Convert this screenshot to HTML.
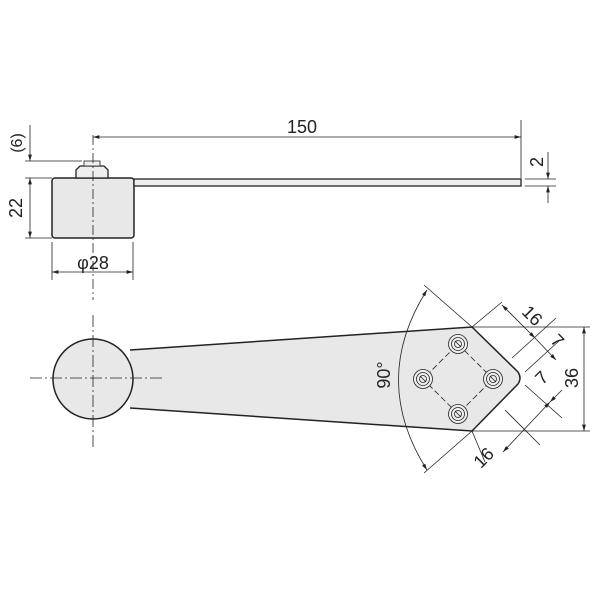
<!DOCTYPE html><html><head><style>body{margin:0;background:#fff}svg{display:block}text{font-family:"Liberation Sans",sans-serif;fill:#222}</style></head><body>
<svg width="600" height="600" viewBox="0 0 600 600" xmlns="http://www.w3.org/2000/svg">
<defs><marker id="a" viewBox="0 0 10 6" refX="10" refY="3" markerWidth="8" markerHeight="5" orient="auto-start-reverse"><path d="M0,0L10,3L0,6z" fill="#222"/></marker></defs>
<g stroke="#222" fill="none" stroke-width="0.8">
<rect x="52" y="178" width="82" height="60" rx="3" fill="#e8e8e8" stroke-width="1.5"/>
<path d="M76,178 L76,170 L80,166 L104,166 L108,170 L108,178 Z" fill="#eee" stroke-width="1.3"/>
<rect x="84" y="161" width="16" height="5" fill="#eee"/>
<rect x="134" y="179" width="387" height="7" fill="#eee" stroke-width="1.3"/>
<line x1="93" y1="135" x2="93" y2="300" stroke-dasharray="10,3,2,3"/>
<line x1="93" y1="137" x2="521" y2="137" marker-start="url(#a)" marker-end="url(#a)"/>
<line x1="521" y1="120" x2="521" y2="178"/>
<line x1="25" y1="161" x2="82" y2="161"/><line x1="25" y1="178" x2="52" y2="178"/><line x1="25" y1="238" x2="52" y2="238"/>
<line x1="30" y1="125" x2="30" y2="161" marker-end="url(#a)"/>
<line x1="30" y1="178" x2="30" y2="238" marker-start="url(#a)" marker-end="url(#a)"/>
<line x1="52" y1="242" x2="52" y2="280"/><line x1="133" y1="242" x2="133" y2="280"/>
<line x1="52" y1="272" x2="133" y2="272" marker-start="url(#a)" marker-end="url(#a)"/>
<line x1="525" y1="179" x2="556" y2="179"/><line x1="525" y1="186" x2="556" y2="186"/>
<line x1="548" y1="152" x2="548" y2="179" marker-end="url(#a)"/><line x1="548" y1="203" x2="548" y2="186" marker-end="url(#a)"/>
<path d="M130,350 L472,327 L518,372 Q522,378 518,384 L472,431 L130,408" fill="#e8e8e8" stroke-width="1.5"/>
<circle cx="93" cy="379" r="40" fill="#e8e8e8" stroke-width="1.5"/>
<line x1="30" y1="378" x2="165" y2="378" stroke-dasharray="12,3,2,3"/>
<line x1="93" y1="315" x2="93" y2="450" stroke-dasharray="12,3,2,3"/>
<path d="M458,344 L493,379 L458,414 L423,379 Z" stroke-dasharray="6,3"/>
<g fill="#eee"><circle cx="458" cy="344" r="9.5"/><circle cx="493" cy="379" r="9.5"/><circle cx="458" cy="414" r="9.5"/><circle cx="423" cy="379" r="9.5"/>
<circle cx="458" cy="344" r="6.5"/><circle cx="493" cy="379" r="6.5"/><circle cx="458" cy="414" r="6.5"/><circle cx="423" cy="379" r="6.5"/>
<circle cx="458" cy="344" r="3.5"/><circle cx="493" cy="379" r="3.5"/><circle cx="458" cy="414" r="3.5"/><circle cx="423" cy="379" r="3.5"/></g>
<path d="M455,341l6,6M490,376l6,6M455,411l6,6M420,376l6,6"/>
<line x1="472" y1="327" x2="424" y2="285"/><line x1="472" y1="431" x2="424" y2="473"/>
<path d="M427,290 Q370,380 427,470" marker-start="url(#a)" marker-end="url(#a)"/>
<line x1="472" y1="327" x2="590" y2="327"/><line x1="472" y1="431" x2="590" y2="431"/>
<line x1="584" y1="327" x2="584" y2="431" marker-start="url(#a)" marker-end="url(#a)"/>
<line x1="472" y1="327" x2="502" y2="302"/><line x1="512" y1="358" x2="556" y2="318"/><line x1="525" y1="372" x2="560" y2="340"/>
<line x1="502" y1="305" x2="535" y2="338" marker-start="url(#a)" marker-end="url(#a)"/>
<line x1="535" y1="338" x2="556" y2="360" marker-end="url(#a)"/>
<line x1="525" y1="385" x2="562" y2="418"/><line x1="505" y1="410" x2="540" y2="445"/><line x1="472" y1="431" x2="485" y2="462"/>
<line x1="562" y1="390" x2="550" y2="402" marker-end="url(#a)"/>
<line x1="550" y1="402" x2="503" y2="452" marker-start="url(#a)" marker-end="url(#a)"/>
</g>
<g font-size="18">
<text x="302" y="133" text-anchor="middle">150</text>
<text x="93" y="269" text-anchor="middle">φ28</text>
<text transform="translate(22,143) rotate(-90)" text-anchor="middle" font-size="16">(6)</text>
<text transform="translate(22,208) rotate(-90)" text-anchor="middle">22</text>
<text transform="translate(543,162) rotate(-90)" text-anchor="middle">2</text>
<text transform="translate(578,378) rotate(-90)" text-anchor="middle">36</text>
<text transform="translate(390,375) rotate(-90)" text-anchor="middle">90°</text>
<text transform="translate(528,320) rotate(45)" text-anchor="middle">16</text>
<text transform="translate(553,345) rotate(45)" text-anchor="middle">7</text>
<text transform="translate(546,382) rotate(-45)" text-anchor="middle">7</text>
<text transform="translate(488,462) rotate(-45)" text-anchor="middle">16</text>
</g>
</svg></body></html>
